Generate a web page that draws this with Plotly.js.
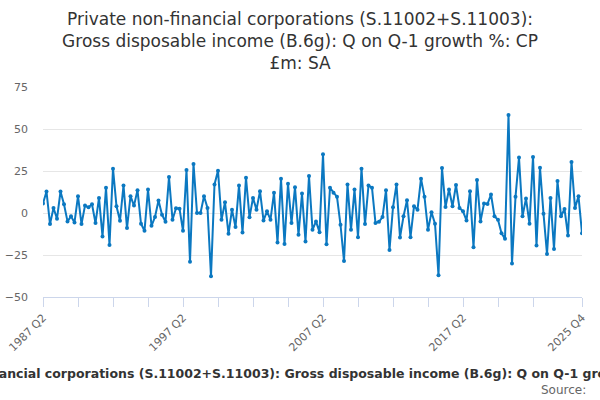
<!DOCTYPE html>
<html>
<head>
<meta charset="utf-8">
<script src="https://cdn.plot.ly/plotly-3.0.1.min.js"></script>
<style>html,body{margin:0;padding:0;background:#fff;}#chart{width:600px;height:400px;}</style>
</head>
<body>
<div id="chart"></div>
<script>
// Quarter labels from 1987 Q2 to 2025 Q4
var quarters = [];
(function(){ for (var y = 1987; y <= 2025; y++) { for (var q = 1; q <= 4; q++) { if (y === 1987 && q < 2) continue; quarters.push(y + ' Q' + q); } } })();

var growth = [
  5.6, 12.8, -6.6, 3, -3.4, 12.8, 5.2, -5, -2, -5.6,
  10, -6.6, 4.4, 3.4, 5.2, -6, 9, -14, 15, -19,
  26.4, 4, -4.6, 16.4, -9, 10, 4.4, 13.6, -6.4, -10.6,
  14, -7.6, -2.4, 7.4, -1, -5.2, 21.4, -4, 2.8, 2.6,
  -10.6, 25.6, -29, 29.2, 0, 0, 10, 3, -37.6, 17,
  25.2, -4, 6.4, -12.4, 2, -8.4, 16.4, -11.6, 21, -2.6,
  9, 2, 13, -4.4, 1, -4, 12, -17.6, 20.4, -18.4,
  17.4, -6, 15.4, -13, 11.6, -17, 22, -10, -5, -11.4,
  35, -18.6, 15, 12, 9.6, -7, -28.6, 17, -10, 14,
  -14.4, 26.4, -6.6, 16.4, 15, -6, -5.2, -2.4, 13.6, -22,
  3.4, 17, -14.6, -2, 7.6, -14.4, 4, 2, 20.4, 9.6,
  -10, 0.4, -6.4, -37, 26.8, 3.6, 14, 4, 16.6, 3,
  1, -4.4, 13, -20.4, 19.6, -5, 5.6, 5.4, 11, -2,
  -4, -12, -15.4, 58.4, -30, 9.6, 33, -2, 8.6, -6.4,
  33.4, -19.4, 27, -0.4, -24.4, 9, -21.4, 19, -2, 2.4,
  -13.4, 30.4, 3, 10, -12
];

var tickIdx = [0,10,20,30,40,50,60,70,80,90,100,110,120,130,140,154];
var labelIdx = [0,40,80,120,154];
var tickVals = tickIdx.map(function(i){ return quarters[i]; });
var tickText = tickIdx.map(function(i){ return labelIdx.indexOf(i) >= 0 ? quarters[i] : ''; });
var yTicks = [-50, -25, 0, 25, 50, 75];

var titleText = 'Private non-financial corporations (S.11002+S.11003):<br>Gross disposable income (B.6g): Q on Q-1 growth %: CP<br>£m: SA';
var axisTitle = 'Private non-financial corporations (S.11002+S.11003): Gross disposable income (B.6g): Q on Q-1 growth %: CP £m: SA';

var trace = {
  x: quarters,
  y: growth,
  type: 'scatter',
  mode: 'lines+markers',
  line: {color: '#0b78c1', width: 2},
  marker: {color: '#0b78c1', size: 4},
  hoverinfo: 'x+y'
};

var layout = {
  width: 600, height: 400,
  margin: {l: 43, r: 18, t: 87, b: 103},
  paper_bgcolor: '#fff', plot_bgcolor: '#fff',
  font: {family: 'DejaVu Sans, sans-serif', color: '#666'},
  showlegend: false,
  title: {text: titleText, font: {size: 17, color: '#333', family: 'DejaVu Sans, sans-serif'}, x: 0.5, xanchor: 'center', y: 0.937, yanchor: 'top'},
  xaxis: {
    type: 'category',
    range: [0, quarters.length - 1],
    tickmode: 'array', tickvals: tickVals, ticktext: tickText,
    tickangle: -45,
    tickfont: {size: 11, color: '#666'},
    ticks: 'outside', ticklen: 9, tickcolor: '#ccd6eb', tickwidth: 1,
    showline: true, linecolor: '#ccd6eb', linewidth: 1,
    showgrid: false, zeroline: false, automargin: false
  },
  yaxis: {
    range: [-50, 75],
    tickmode: 'array', tickvals: yTicks,
    tickfont: {size: 11, color: '#666'},
    showgrid: true, gridcolor: '#e6e6e6', gridwidth: 1,
    zeroline: false, showline: false, ticks: '',
    ticklabelstandoff: 14, automargin: false
  },
  annotations: [
    {text: '<b>' + axisTitle + '</b>', xref: 'paper', yref: 'paper', x: 0.5, y: -0.362, xanchor: 'center', yanchor: 'middle', showarrow: false, font: {size: 12.5, color: '#333'}},
    {text: 'Source:', xref: 'paper', yref: 'paper', x: 1.011, y: -0.443, xanchor: 'right', yanchor: 'middle', showarrow: false, font: {size: 12, color: '#666'}}
  ]
};

Plotly.newPlot('chart', [trace], layout, {displayModeBar: false, staticPlot: false});
</script>
</body>
</html>
